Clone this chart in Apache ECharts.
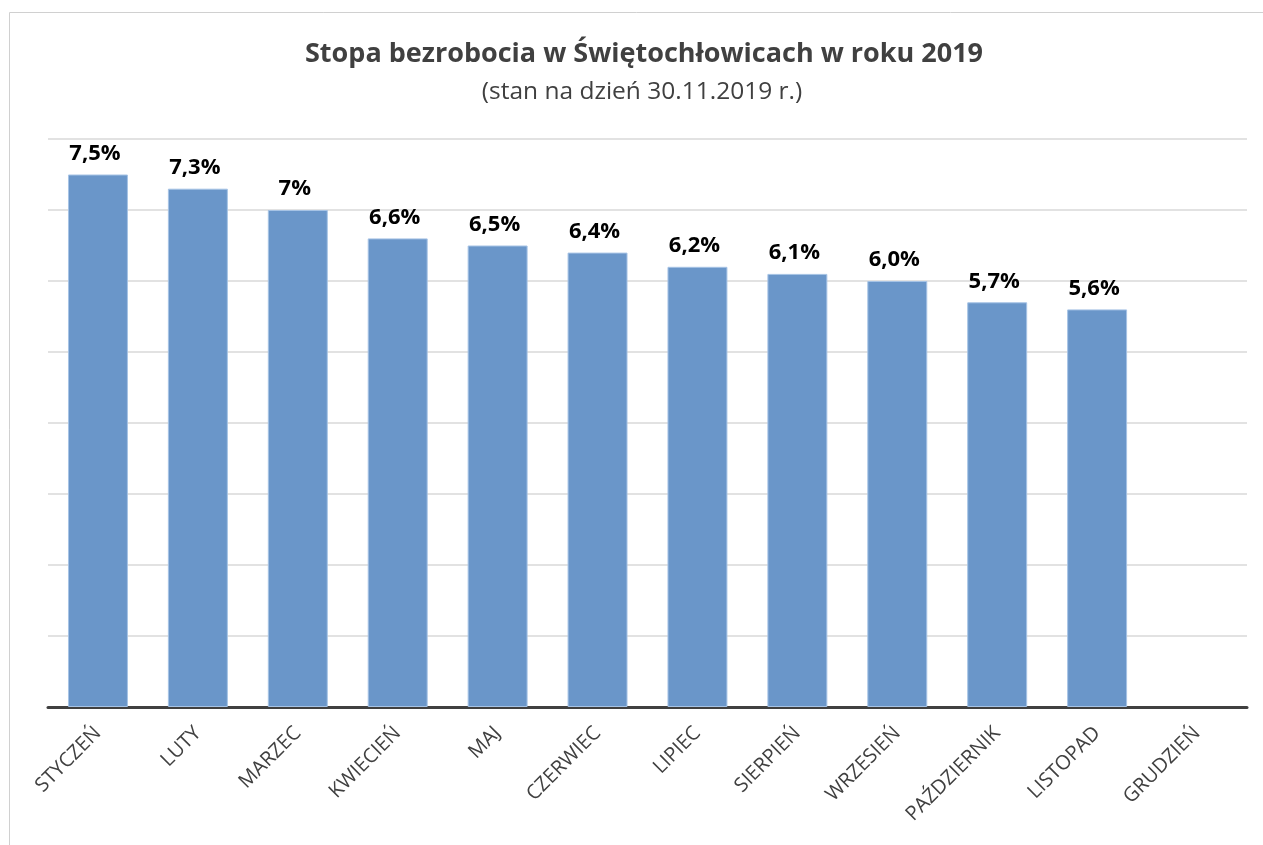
<!DOCTYPE html>
<html><head><meta charset="utf-8">
<script src="https://cdn.jsdelivr.net/npm/echarts@6/dist/echarts.min.js"></script>
<style>html,body{margin:0;padding:0;background:#fff;}#c{width:1263px;height:845px;}</style>
</head><body><div id="c"></div>
<script>
const categories = ['STYCZEŃ','LUTY','MARZEC','KWIECIEŃ','MAJ','CZERWIEC','LIPIEC','SIERPIEŃ','WRZESIEŃ','PAŹDZIERNIK','LISTOPAD','GRUDZIEŃ'];
const values = [7.5, 7.3, 7.0, 6.6, 6.5, 6.4, 6.2, 6.1, 6.0, 5.7, 5.6, null];
const valueLabels = ['7,5%','7,3%','7%','6,6%','6,5%','6,4%','6,2%','6,1%','6,0%','5,7%','5,6%',''];
const titleText = 'Stopa bezrobocia w Świętochłowicach w roku 2019';
const subtitleText = '(stan na dzień 30.11.2019 r.)';

const chart = echarts.init(document.getElementById('c'), null, {renderer:'canvas'});
const FONT = '"Open Sans", "Noto Sans", sans-serif';
chart.setOption({
  backgroundColor:'#fff',
  animation:false,
  title:[{
    text:titleText, left:639, top:36, textAlign:'center',
    textStyle:{fontFamily:FONT, fontSize:27, fontWeight:'bold', color:'#404040'}
  },{
    text:subtitleText, left:637, top:75, textAlign:'center',
    textStyle:{fontFamily:FONT, fontSize:24.5, fontWeight:'normal', color:'#404040'}
  }],
  graphic:[{type:'rect', shape:{x:9.5,y:12.5,width:1262,height:840}, style:{fill:'none', stroke:'#d0d0d0', lineWidth:1}, silent:true}],
  grid:{left:48, right:16, top:139, bottom:138, containLabel:false},
  xAxis:{
    type:'category', data:categories,
    axisLine:{lineStyle:{color:'#404040', width:3}},
    axisTick:{show:false},
    axisLabel:{rotate:45, fontFamily:FONT, fontSize:20, color:'#404040', margin:23, interval:0}
  },
  yAxis:{
    type:'value', min:0, max:8, interval:1,
    axisLabel:{show:false}, axisLine:{show:false}, axisTick:{show:false},
    splitLine:{lineStyle:{color:'#d9d9d9', width:1.5}}
  },
  series:[{
    type:'bar', data:values, barWidth:'60%',
    itemStyle:{color:'#6a96c9', borderColor:'#a6c3e5', borderWidth:1},
    label:{show:true, position:'top', distance:10, offset:[-3,0],
      formatter:p=>valueLabels[p.dataIndex],
      fontFamily:FONT, fontSize:22, fontWeight:'bold', color:'#000'}
  }]
});
</script></body></html>
